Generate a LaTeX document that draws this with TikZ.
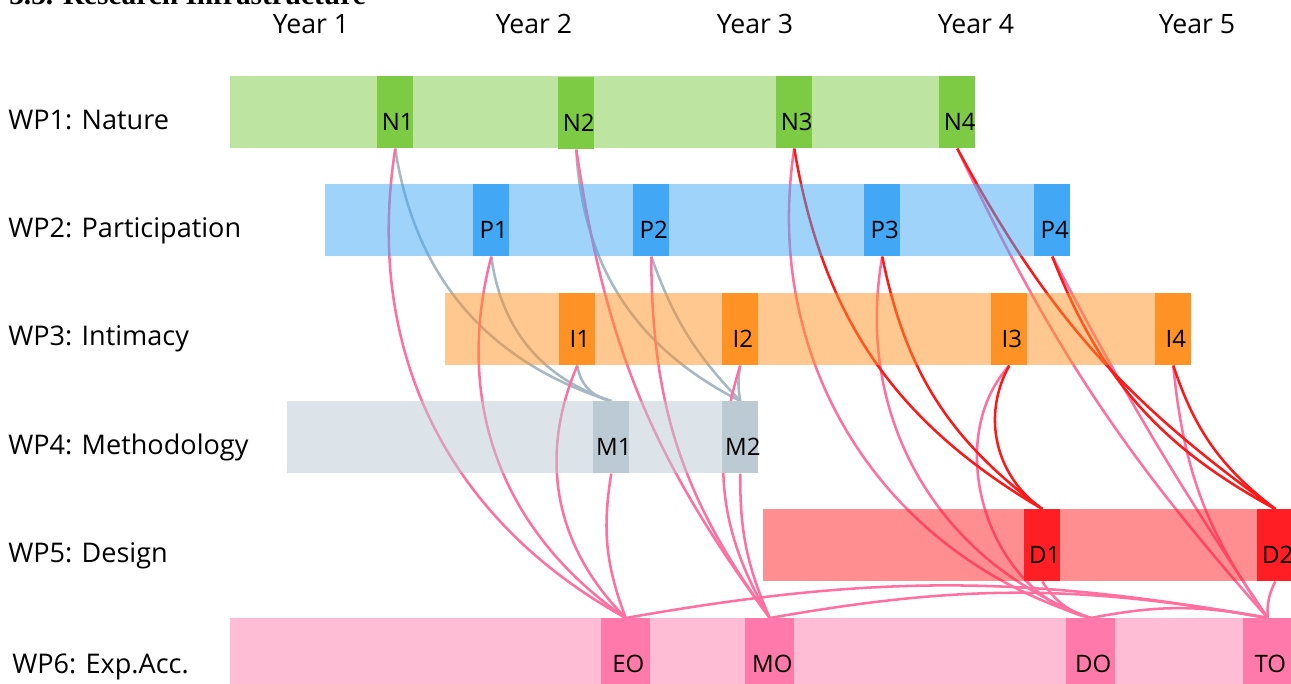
\documentclass[tikz,border=0pt]{standalone}
\usepackage{fontspec}
\setmainfont{Open Sans}
\newfontfamily\headfont{Liberation Serif}
\pgfdeclarelayer{links}
\pgfsetlayers{links,main}
\newlength\pxu
\setlength\pxu{0.75pt}
% milestone caption: zero-width box so the caption never widens its box
\newcommand\mslabel[1]{\makebox[0pt][c]{\hspace*{5\pxu}#1}}

% work package colours (milestones); the bars use them at half opacity
\definecolor{natc}{RGB}{125,202,68}
\definecolor{parc}{RGB}{66,168,245}
\definecolor{intc}{RGB}{255,146,36}
\definecolor{metc}{RGB}{188,202,211}
\definecolor{desc}{RGB}{255,30,36}
\definecolor{expc}{RGB}{255,121,170}
% connector colours
\definecolor{pinkline}{RGB}{255,112,160}
\definecolor{redline}{RGB}{255,24,24}
\definecolor{greyline}{RGB}{166,184,196}

\tikzset{
  wpbar/.style={draw=none, fill opacity=0.5, inner sep=0pt,
    minimum height=72\pxu, anchor=north west},
  mstone/.style={draw=none, inner sep=0pt, minimum width=36\pxu,
    minimum height=72\pxu, anchor=north west, text height=37\pxu,
    text depth=0pt, font=\fontsize{18}{20}\selectfont},
  wide/.style={minimum width=49\pxu},
  rowlabel/.style={anchor=base west, inner sep=0pt,
    font=\fontsize{20.3}{24}\selectfont},
  yearlabel/.style={anchor=base, inner sep=0pt,
    font=\fontsize{20}{24}\selectfont},
  link/.style={line width=1.9pt},
  plink/.style={link, draw=pinkline},
  rlink/.style={link, draw=redline},
  glink/.style={link, draw=greyline},
}

\begin{document}
\begin{tikzpicture}[x=0.75pt, y=-0.75pt]
\useasboundingbox (0,0) rectangle (1291,683);
\clip (0,0) rectangle (1291,683);

% heading
\node[anchor=base west, inner sep=0pt,
  font=\headfont\bfseries\fontsize{22}{24}\selectfont] (title) at (9,4)
  {3.3. Research Infrastructure};

% years
\node[yearlabel] (y1) at (311,33) {Year 1};
\node[yearlabel] (y2) at (534,33) {Year 2};
\node[yearlabel] (y3) at (755,33) {Year 3};
\node[yearlabel] (y4) at (976,33) {Year 4};
\node[yearlabel] (y5) at (1197,33) {Year 5};

% work package names
\node[rowlabel] (l1) at (8,129) {WP1: Nature};
\node[rowlabel] (l2) at (8,237) {WP2: Participation};
\node[rowlabel] (l3) at (8,345) {WP3: Intimacy};
\node[rowlabel] (l4) at (8,454) {WP4: Methodology};
\node[rowlabel] (l5) at (8,562) {WP5: Design};
\node[rowlabel] (l6) at (12,673) {WP6: Exp.Acc.};

% work package bars
\node[wpbar, fill=natc, minimum width=745\pxu] (wp1) at (230,76) {};
\node[wpbar, fill=parc, minimum width=745\pxu] (wp2) at (325,184) {};
\node[wpbar, fill=intc, minimum width=745\pxu] (wp3) at (445,293) {};
\node[wpbar, fill=metc, minimum width=471\pxu] (wp4) at (287,401) {};
\node[wpbar, fill=desc, minimum width=530\pxu] (wp5) at (763,509) {};
\node[wpbar, fill=expc, minimum width=1063\pxu] (wp6) at (230,618) {};

% milestones
\node[mstone, fill=natc] (n1) at (377,76) {\mslabel{N1}};
\node[mstone, fill=natc] (n2) at (558,77) {\mslabel{N2}};
\node[mstone, fill=natc] (n3) at (776,76) {\mslabel{N3}};
\node[mstone, fill=natc] (n4) at (939,76) {\mslabel{N4}};

\node[mstone, fill=parc] (p1) at (473,184) {\mslabel{P1}};
\node[mstone, fill=parc] (p2) at (633,184) {\mslabel{P2}};
\node[mstone, fill=parc] (p3) at (864,184) {\mslabel{P3}};
\node[mstone, fill=parc] (p4) at (1034,184) {\mslabel{P4}};

\node[mstone, fill=intc] (i1) at (559,293) {\mslabel{I1}};
\node[mstone, fill=intc] (i2) at (722,293) {\mslabel{I2}};
\node[mstone, fill=intc] (i3) at (991,293) {\mslabel{I3}};
\node[mstone, fill=intc] (i4) at (1155,293) {\mslabel{I4}};

\node[mstone, fill=metc] (m1) at (593,401) {\mslabel{M1}};
\node[mstone, fill=metc] (m2) at (722,401) {\mslabel{M2}};

\node[mstone, fill=desc] (d1) at (1024,509) {\mslabel{D1}};
\node[mstone, fill=desc] (d2) at (1257,509) {\mslabel{D2}};

\node[mstone, wide, fill=expc] (outE) at (601,618) {\mslabel{EO}};
\node[mstone, wide, fill=expc] (outM) at (745,618) {\mslabel{MO}};
\node[mstone, wide, fill=expc] (outD) at (1066,618) {\mslabel{DO}};
\node[mstone, wide, fill=expc] (outT) at (1243,618) {\mslabel{TO}};

\begin{pgfonlayer}{links}
  % methodology links
  \draw[glink] (n1.south) to[bend right=32] (m1.north);
  \draw[glink] (p1.south) to[bend right=32] (m1.north);
  \draw[glink] (i1.south) to[bend right=35] (m1.north);
  \draw[glink] (n2.south) to[bend right=30] (m2.north);
  \draw[glink] (p2.south) to[bend right=12] (m2.north);
  \draw[glink] (i2.south) to[bend right=10] (m2.north);

  % outputs
  \draw[plink] (n1.south) to[bend right=35] (outE.north);
  \draw[plink] (p1.south) to[bend right=35] (outE.north);
  \draw[plink] (i1.south) to[bend right=34] (outE.north);
  \draw[plink] (m1.south) to[bend right=15] (outE.north);

  \draw[plink] (n2.south) to[bend right=14] (outM.north);
  \draw[plink] (p2.south) to[bend right=18] (outM.north);
  \draw[plink] (i2.south) to[bend right=24] (outM.north);
  \draw[plink] (m2.south) to[bend right=12] (outM.north);

  \draw[plink] (n3.south) to[bend right=41] (outD.north);
  \draw[plink] (p3.south) to[bend right=40] (outD.north);
  \draw[plink] (i3.south) to[bend right=60] (outD.north);
  \draw[plink] (d1.south) to[bend right=20] (outD.north);

  \draw[plink] (n4.south) to[bend right=8] (outT.north);
  \draw[plink] (p4.south) to[bend right=3] (outT.north);
  \draw[plink] (i4.south) to[bend right=15] (outT.north);
  \draw[plink] (d2.south) to[bend right=15] (outT.north);

  \draw[plink] (outE.north) to[bend left=10] (outT.north);
  \draw[plink] (outM.north) to[bend left=10] (outT.north);
  \draw[plink] (outD.north) to[bend left=11] (outT.north);

  % design links
  \draw[rlink] (n3.south) to[bend right=25] (d1.north);
  \draw[rlink] (p3.south) to[bend right=21] (d1.north);
  \draw[rlink] (i3.south) to[bend right=42] (d1.north);
  \draw[rlink] (n4.south) to[bend right=13] (d2.north);
  \draw[rlink] (p4.south) to[bend right=20] (d2.north);
  \draw[rlink] (i4.south) to[bend right=17] (d2.north);
\end{pgfonlayer}
\end{tikzpicture}
\end{document}
